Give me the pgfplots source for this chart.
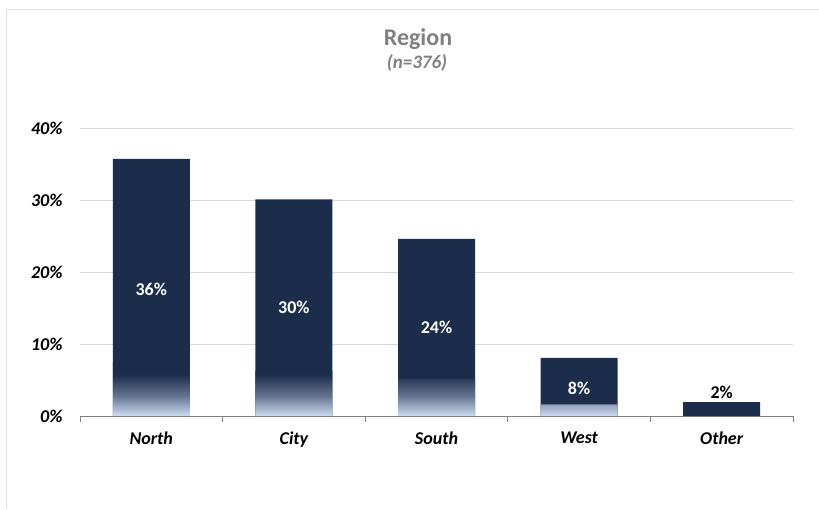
\documentclass[border=0pt]{standalone}
\usepackage{fontspec}
\setmainfont{Carlito}
\usepackage{pgfplots}
\pgfplotsset{compat=1.18}
\usetikzlibrary{calc}
\definecolor{navy}{RGB}{27,45,74}
\definecolor{paleblue}{RGB}{205,220,242}
\definecolor{midfade}{RGB}{100,116,144}
\definecolor{titlegray}{RGB}{128,128,128}
% bottom of each bar fades from navy into pale blue
\pgfdeclareverticalshading{barfade}{100bp}{
  color(0bp)=(paleblue); color(25bp)=(paleblue);
  color(44bp)=(midfade); color(64bp)=(navy); color(100bp)=(navy)}

\begin{document}
\begin{tikzpicture}[x=1pt,y=1pt]
  \begin{axis}[
    name=ax,
    scale only axis, width=713pt, height=288pt,
    xmin=-0.5, xmax=4.5, ymin=0, ymax=40,
    axis x line*=bottom, axis y line*=left,
    y axis line style={draw=none},
    x axis line style={gray, line width=0.8pt},
    ytick={0,10,20,30,40},
    yticklabel={\pgfmathprintnumber{\tick}\%},
    ymajorgrids, grid style={gray!30, line width=0.8pt},
    xtick={0,...,4}, xticklabels={North,City,South,West,Other},
    minor xtick={-0.5,0.5,1.5,2.5,3.5,4.5},
    major tick length=0pt, minor tick length=6pt,
    tick align=outside,
    tick style={gray, line width=0.8pt},
    ytick style={draw=none},
    ticklabel style={font=\fontsize{18}{21}\selectfont\bfseries\itshape},
    /pgf/number format/assume math mode=true,
    yticklabel style={anchor=east, xshift=-14pt},
    xticklabel style={yshift=-12pt},
    clip=false,
  ]
    \coordinate (O) at (rel axis cs:0,0);
    % full bars
    \addplot[ybar, bar width=77pt, bar shift=0pt, fill=navy, draw=none]
      coordinates {(0,35.7) (1,30.1) (2,24.6) (3,8.06) (4,1.94)};
    % faded foot of each bar
    \addplot[ybar, bar width=77pt, bar shift=0pt, draw=none, shading=barfade]
      coordinates {(0,7.4) (1,6.3) (2,5.2) (3,1.6)};
    % value labels inside the bars
    \addplot[draw=none, nodes near coords, point meta=explicit symbolic,
             every node near coord/.style={anchor=center, text=white,
               font=\fontsize{18}{21}\selectfont\bfseries}]
      coordinates {(0,17.6)[36\%] (1,15.05)[30\%] (2,12.3)[24\%] (3,3.8)[8\%]};
    % label above the small bar
    \addplot[draw=none, nodes near coords, point meta=explicit symbolic,
             every node near coord/.style={anchor=south, text=black,
               font=\fontsize{18}{21}\selectfont\bfseries}]
      coordinates {(4,1.94)[2\%]};
  \end{axis}
  % picture frame, laid out relative to the axis corner
  \useasboundingbox ($(O)+(-80,-93)$) rectangle ($(O)+(739,416)$);
  \draw[gray!25, line width=1pt] ($(O)+(-73,-93)$) -- ($(O)+(-73,406)$) -- ($(O)+(739,406)$);
  \node[font=\fontsize{24}{28}\selectfont\bfseries, text=titlegray] at ($(O)+(338,377)$) {Region};
  \node[font=\fontsize{19}{22}\selectfont\bfseries\itshape, text=titlegray] at ($(O)+(337,353)$) {(n=376)};
\end{tikzpicture}
\end{document}
